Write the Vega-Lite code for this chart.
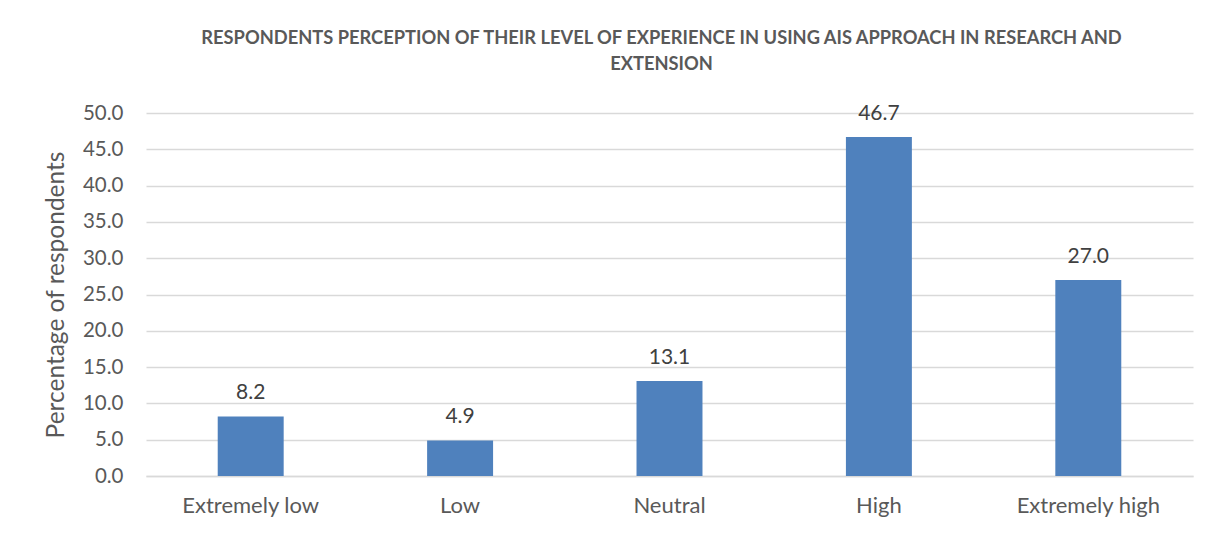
{
  "$schema": "https://vega.github.io/schema/vega-lite/v6.json",
  "autosize": {"type": "none"},
  "width": 1047,
  "height": 363,
  "padding": {"left": 146, "top": 113, "right": 25, "bottom": 57},
  "background": "white",
  "config": {
    "font": "Lato",
    "view": {"stroke": null}
  },
  "title": {
    "text": ["RESPONDENTS PERCEPTION OF THEIR LEVEL OF EXPERIENCE IN USING  AIS APPROACH IN RESEARCH AND", "EXTENSION"],
    "fontSize": 18.3,
    "fontWeight": "bold",
    "color": "#595959",
    "lineHeight": 26,
    "anchor": "middle",
    "dx": -8,
    "offset": 29
  },
  "data": {
    "values": [
      {"level": "Extremely low", "pct": 8.2},
      {"level": "Low", "pct": 4.9},
      {"level": "Neutral", "pct": 13.1},
      {"level": "High", "pct": 46.7},
      {"level": "Extremely high", "pct": 27.0}
    ]
  },
  "encoding": {
    "x": {
      "field": "level",
      "type": "nominal",
      "sort": null,
      "scale": {"paddingInner": 0.685, "paddingOuter": 0.3425},
      "axis": {
        "title": null,
        "labelAngle": 0,
        "labelFontSize": 22,
        "labelColor": "#595959",
        "labelPadding": 19,
        "ticks": false,
        "domain": true,
        "domainColor": "#d9d9d9",
        "domainWidth": 1.5
      }
    },
    "y": {
      "field": "pct",
      "type": "quantitative",
      "scale": {"domain": [0, 50]},
      "axis": {
        "title": "Percentage of respondents",
        "titleFontSize": 24.5,
        "titleFontWeight": "normal",
        "titleColor": "#595959",
        "titlePadding": 14,
        "values": [0, 5, 10, 15, 20, 25, 30, 35, 40, 45, 50],
        "format": ".1f",
        "labelFontSize": 20.5,
        "labelColor": "#595959",
        "labelPadding": 23,
        "ticks": false,
        "domain": false,
        "grid": true,
        "gridColor": "#d9d9d9",
        "gridWidth": 1.5
      }
    }
  },
  "layer": [
    {"mark": {"type": "bar", "color": "#4f81bd"}},
    {
      "mark": {"type": "text", "baseline": "bottom", "dy": -13, "fontSize": 21, "color": "#404040"},
      "encoding": {"text": {"field": "pct", "type": "quantitative", "format": ".1f"}}
    }
  ]
}
